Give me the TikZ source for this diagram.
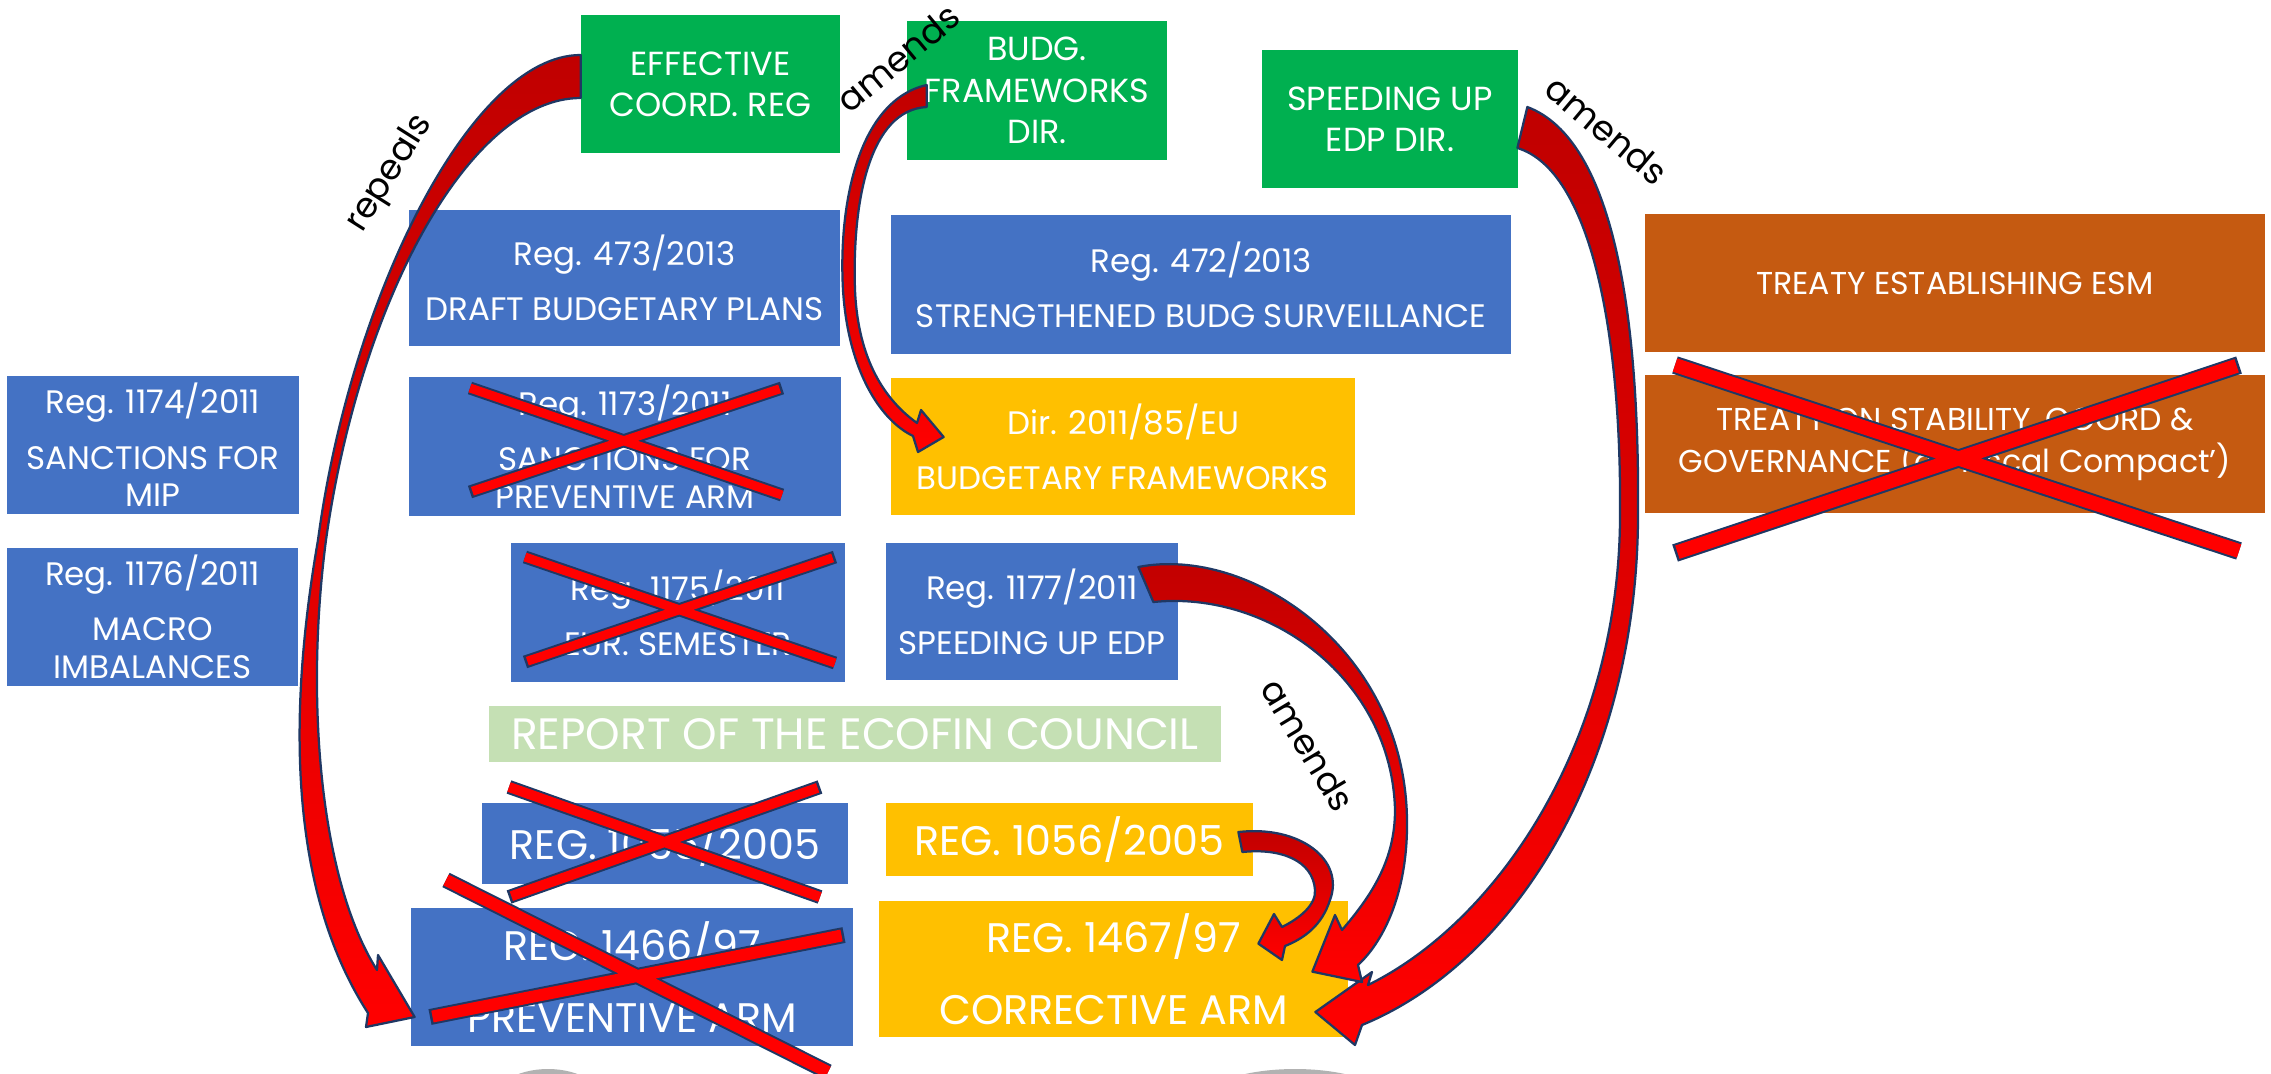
\documentclass[tikz,border=0pt]{standalone}
\usepackage{fontspec}
\setmainfont{Poppins}
\usetikzlibrary{calc}

\definecolor{regblue}{HTML}{4472C4}
\definecolor{newgreen}{HTML}{00B050}
\definecolor{dirgold}{HTML}{FFC000}
\definecolor{treatyrust}{HTML}{C55A11}
\definecolor{ecofingreen}{HTML}{C5E0B4}
\definecolor{arrowdark}{HTML}{C00000}
\definecolor{arrowred}{HTML}{FF0000}
\definecolor{inknavy}{HTML}{1F3864}

\tikzset{
    box/.style 2 args={rectangle, inner sep=0pt, align=center, text=white,
        minimum width=#1*0.2mm, minimum height=#2*0.2mm},
    regtext/.style={font=\fontsize{18.5}{21.5}\selectfont},
    greentext/.style={font=\fontsize{19}{23.5}\selectfont},
    treatytext/.style={font=\fontsize{18}{24}\selectfont},
    bigtext/.style={font=\fontsize{23.5}{27}\selectfont},
    reporttext/.style={font=\fontsize{25}{28}\selectfont},
    verb/.style={font=\fontsize{20}{24}\selectfont, text=black, inner sep=0pt},
    ribbon/.style={draw=inknavy, line width=0.45mm, line join=round,
        top color=arrowdark, bottom color=arrowred},
    strikeink/.style={draw=inknavy, line width=#1*0.2mm+0.8mm},
    strikered/.style={draw=arrowred, line width=#1*0.2mm,
        shorten >=0.5mm, shorten <=0.5mm}
}

\begin{document}
\begin{tikzpicture}[x=0.2mm, y=-0.2mm]

    % Page frame
    \fill[white] (0,0) rectangle (2271,1073);
    \useasboundingbox (0,0) rectangle (2271,1073);

    % Shapes cut off at the bottom edge
    \fill[gray!60] (548,1105) ellipse [x radius=58, y radius=36];
    \fill[gray!60] (1295,1105) ellipse [x radius=98, y radius=36];

    % New instruments
    \node[box={259}{138}, fill=newgreen, greentext] (eff) at (710.5,84) {EFFECTIVE\\COORD. REG};
    \node[box={260}{139}, fill=newgreen, greentext] (budg) at (1037,90.5) {BUDG.\\FRAMEWORKS\\DIR.};
    \node[box={256}{138}, fill=newgreen, greentext] (edpdir) at (1390,119) {SPEEDING UP\\EDP DIR.};

    % Regulations
    \node[box={431}{136}, fill=regblue, regtext] (r473) at (624.5,278) {Reg. 473/2013\\[10pt]DRAFT BUDGETARY PLANS};
    \node[box={620}{139}, fill=regblue, regtext] (r472) at (1201,284.5) {Reg. 472/2013\\[10pt]STRENGTHENED BUDG SURVEILLANCE};
    \node[box={292}{138}, fill=regblue, regtext] (r1174) at (153,445) {Reg. 1174/2011\\[10pt]SANCTIONS FOR\\MIP};
    \node[box={432}{139}, fill=regblue, regtext] (r1173) at (625,446.5) {Reg. 1173/2011\\[10pt]SANCTIONS FOR\\PREVENTIVE ARM};
    \node[box={291}{138}, fill=regblue, regtext] (r1176) at (152.5,617) {Reg. 1176/2011\\[10pt]MACRO\\IMBALANCES};
    \node[box={334}{139}, fill=regblue, regtext] (r1175) at (678,612.5) {Reg. 1175/2011\\[10pt]EUR. SEMESTER};
    \node[box={292}{137}, fill=regblue, regtext] (r1177) at (1032,611.5) {Reg. 1177/2011\\[10pt]SPEEDING UP EDP};
    \node[box={366}{81}, fill=regblue, bigtext] (r1055) at (665,843.5) {REG. 1055/2005};
    \node[box={442}{138}, fill=regblue, bigtext] (r1466) at (632,977) {REG. 1466/97\\[14pt]PREVENTIVE ARM};

    % Directives and amended texts
    \node[box={464}{137}, fill=dirgold, regtext] (dir85) at (1123,446.5) {Dir. 2011/85/EU\\[10pt]BUDGETARY FRAMEWORKS};
    \node[box={367}{73}, fill=dirgold, bigtext] (r1056) at (1069.5,839.5) {REG. 1056/2005};
    \node[box={469}{136}, fill=dirgold, bigtext] (r1467) at (1113.5,969) {REG. 1467/97\\[14pt]CORRECTIVE ARM};

    % Treaties
    \node[box={620}{138}, fill=treatyrust, treatytext] (esm) at (1955,283) {TREATY ESTABLISHING ESM};
    \node[box={620}{138}, fill=treatyrust, treatytext] (tscg) at (1955,444) {TREATY ON STABILITY, COORD \&\\GOVERNANCE (or `Fiscal Compact')};

    % Council report
    \node[box={732}{56}, fill=ecofingreen, reporttext] (ecofin) at (855,734) {REPORT OF THE ECOFIN COUNCIL};

    % Cross out the repealed texts
    \draw[strikeink=9] (470,388) -- (782,495) (470,492) -- (782,388);
    \draw[strikered=9] (470,388) -- (782,495) (470,492) -- (782,388);
    \draw[strikeink=9] (525,557) -- (835,663) (525,662) -- (835,557);
    \draw[strikered=9] (525,557) -- (835,663) (525,662) -- (835,557);
    \draw[strikeink=10] (509,787) -- (820,897) (509,897) -- (820,787);
    \draw[strikered=10] (509,787) -- (820,897) (509,897) -- (820,787);
    \draw[strikeink=12] (446,880) -- (828,1072) (430,1017) -- (844,935);
    \draw[strikered=12] (446,880) -- (828,1072) (430,1017) -- (844,935);
    \draw[strikeink=14] (1675,365) -- (2239,551) (1675,553) -- (2239,365);
    \draw[strikered=14] (1675,365) -- (2239,551) (1675,553) -- (2239,365);

    % repeals
    \draw[ribbon] ($(eff.west)+(0,-29)$) .. controls (470,55) and (350,300) .. (318,540)
        .. controls (292,690) and (282,880) .. (368,1013)
        -- (366,1027) -- ($(r1466.west)+(4,40)$) -- (378,955) -- (377,970)
        .. controls (320,880) and (305,700) .. (326,540)
        .. controls (360,300) and (470,98) .. ($(eff.west)+(0,14)$) -- cycle;
    \node[verb, rotate=57.7] (repeals) at (390,174) {repeals};

    % amends (budgetary frameworks)
    \draw[ribbon] ($(budg.west)+(20,-5.5)$) .. controls (860,100) and (838,200) .. (843,290)
        .. controls (848,370) and (880,420) .. (913,436)
        -- (918,452) -- ($(dir85.west)+(53,-9.5)$) -- (921,410) -- (917,423)
        .. controls (885,400) and (858,360) .. (855,290)
        .. controls (852,200) and (870,110) .. ($(budg.west)+(20,16.5)$) -- cycle;
    \node[verb, rotate=39.6] (amendsbudg) at (898,58) {amends};

    % amends (speeding up EDP)
    \draw[ribbon] ($(edpdir.east)+(9,-12)$) .. controls (1615,140) and (1640,320) .. (1638,520)
        .. controls (1636,760) and (1520,960) .. (1362,1025)
        -- (1355,1045) -- ($(r1467.east)+(-33,43)$) -- (1372,972) -- (1368,985)
        .. controls (1500,920) and (1618,740) .. (1620,520)
        .. controls (1622,330) and (1590,170) .. ($(edpdir.east)+(-1,29)$) -- cycle;
    \node[verb, rotate=-40] (amendsedp) at (1607,130) {amends};

    % amends (Reg. 1177/2011)
    \draw[ribbon] ($(r1177.east)+(-40,-44.5)$) .. controls (1250,545) and (1405,650) .. (1407,820)
        .. controls (1408,890) and (1385,940) .. (1358,965)
        -- (1362,982) -- ($(r1467.north east)+(-36,71)$) -- (1335,915) -- (1342,930)
        .. controls (1372,895) and (1395,860) .. (1395,810)
        .. controls (1392,680) and (1270,590) .. ($(r1177.east)+(-25,-9.5)$) -- cycle;
    \node[verb, rotate=-59] (amendsspeed) at (1308,745) {amends};

    % Reg. 1056/2005 into Reg. 1467/97
    \draw[ribbon] ($(r1056.east)+(-15,-7.5)$) .. controls (1300,825) and (1345,860) .. (1330,900)
        .. controls (1322,925) and (1305,938) .. (1285,946)
        -- (1282,960) -- ($(r1467.north east)+(-90,43)$) -- (1274,914) -- (1282,927)
        .. controls (1300,918) and (1316,905) .. (1315,890)
        .. controls (1313,860) and (1280,848) .. ($(r1056.east)+(-11,12.5)$) -- cycle;

\end{tikzpicture}
\end{document}
